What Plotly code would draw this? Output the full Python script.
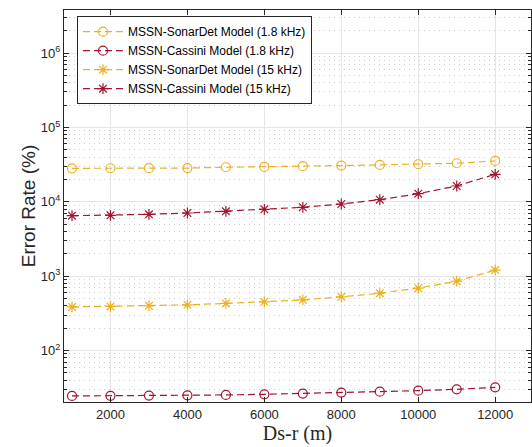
import plotly.graph_objects as go

x_vals = [1000, 2000, 3000, 4000, 5000, 6000, 7000, 8000, 9000, 10000, 11000, 12000]
sonardet_18 = [28200, 28250, 28300, 28400, 29150, 29450, 30100, 30700, 31350, 32000, 33000, 35400]
cassini_18 = [24.5, 24.6, 24.8, 25.0, 25.3, 25.8, 26.4, 27.2, 28.0, 28.9, 30.1, 32.0]
sonardet_15 = [386, 392, 399, 412, 430, 452, 480, 527, 591, 690, 857, 1208]
cassini_15 = [6500, 6580, 6790, 7070, 7450, 7930, 8440, 9340, 10670, 12850, 16320, 23440]

series_names = [
    "MSSN-SonarDet Model (1.8 kHz)",
    "MSSN-Cassini Model (1.8 kHz)",
    "MSSN-SonarDet Model (15 kHz)",
    "MSSN-Cassini Model (15 kHz)",
]
x_ticks = [2000, 4000, 6000, 8000, 10000, 12000]
y_tick_exps = [2, 3, 4, 5, 6]

YELLOW = "#EDB120"
RED = "#A2142F"

fig = go.Figure()
specs = [
    (sonardet_18, YELLOW, "circle-open"),
    (cassini_18, RED, "circle-open"),
    (sonardet_15, YELLOW, "asterisk-open"),
    (cassini_15, RED, "asterisk-open"),
]
for name, (ys, col, sym) in zip(series_names, specs):
    fig.add_trace(go.Scatter(
        x=x_vals, y=ys, name=name, mode="lines+markers",
        line=dict(color=col, width=1.2, dash="7px,4px"),
        marker=dict(symbol=sym, size=9, color=col, line=dict(color=col, width=1.2)),
    ))

axis_col = "#262626"
fig.update_layout(
    width=532, height=447,
    margin=dict(l=64, r=1, t=10, b=45),
    paper_bgcolor="white", plot_bgcolor="white",
    font=dict(family="Liberation Sans, Arial, sans-serif", color=axis_col, size=13),
    showlegend=True,
    legend=dict(
        x=0.0278, y=0.872, xanchor="left", yanchor="middle",
        bgcolor="white", bordercolor=axis_col, borderwidth=1,
        font=dict(size=12, color="black"),
        itemwidth=40, tracegroupgap=0,
    ),
    xaxis=dict(
        range=[792, 12930],
        tickvals=x_ticks, ticktext=[str(v) for v in x_ticks],
        showline=True, linecolor=axis_col, linewidth=1, mirror="ticks",
        ticks="inside", ticklen=5, tickcolor=axis_col,
        showgrid=True, gridcolor="#e6e6e6", gridwidth=1,
        zeroline=False,
        title=dict(text="Ds-r (m)", font=dict(family="Liberation Serif, Times New Roman, serif", size=20, color=axis_col), standoff=5),
    ),
    yaxis=dict(
        type="log",
        range=[1.308, 6.579],
        tickvals=[10 ** e for e in y_tick_exps],
        ticktext=["10<sup>%d</sup>" % e for e in y_tick_exps],
        showline=True, linecolor=axis_col, linewidth=1, mirror="ticks",
        ticks="inside", ticklen=5, tickcolor=axis_col,
        showgrid=True, gridcolor="#e6e6e6", gridwidth=1,
        zeroline=False,
        minor=dict(ticks="inside", ticklen=3, tickcolor=axis_col, dtick="D1",
                   showgrid=True, gridcolor="#cdcdcd", griddash="1px,4px", gridwidth=1),
        title=dict(text="Error Rate (%)", font=dict(size=19, color=axis_col), standoff=0),
    ),
)

fig.write_html("out.html")
